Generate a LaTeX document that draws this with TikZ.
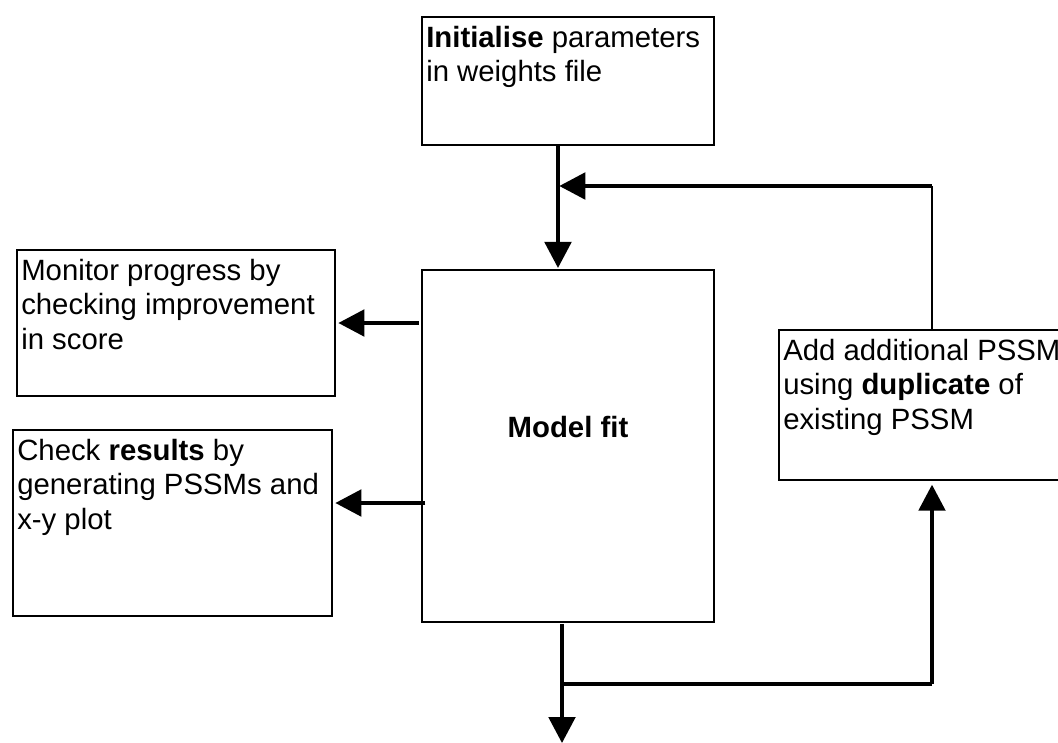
\documentclass[tikz,border=0pt]{standalone}
\usepackage{fontspec}
\setmainfont{Liberation Sans}
\usetikzlibrary{arrows.meta}
\begin{document}
\begin{tikzpicture}[x=0.75pt,y=-0.75pt,
  box/.style={draw, line width=1.1pt, rectangle, inner sep=0pt},
  txt/.style={anchor=north west, align=left, inner sep=0pt, font=\fontsize{22}{25.7}\selectfont},
  conn/.style={line width=2.4pt},
  thinconn/.style={line width=1.6pt},
  arr/.style={conn, -{Triangle[length=19.5pt,width=20pt]}},
]
\useasboundingbox (0,0) rectangle (1058,743);

% boxes
\node[box, minimum width=219pt, minimum height=96pt] (init) at (568,81) {};
\node[box, minimum width=219pt, minimum height=264pt] (model) at (568,446) {};
\node[box, minimum width=238.5pt, minimum height=109.5pt] (monitor) at (176,323) {};
\node[box, minimum width=239.25pt, minimum height=139.5pt] (check) at (172.5,523) {};
\node[box, minimum width=229.5pt, minimum height=112.5pt] (pssm) at (932,405) {};

% texts
\node[txt] (initT) at (426,26) {\textbf{Initialise} parameters\\in weights file};
\node[txt] (monT) at (21,259) {Monitor progress by\\checking improvement\\in score};
\node[txt] (chkT) at (17,439) {Check \textbf{results} by\\generating PSSMs and\\x-y plot};
\node[txt] (pssmT) at (783,339) {Add additional PSSM\\using \textbf{duplicate} of\\existing PSSM};
\node[inner sep=0pt, font=\fontsize{22}{25.7}\selectfont\bfseries] (modelT) at ([yshift=14.6pt]model.center) {Model fit};

% junctions
\coordinate (jtop) at (558,186);
\coordinate (jbot) at (562,684);
\coordinate (out) at (562,743);
\coordinate (c1) at (monitor.east);
\coordinate (c2) at ([yshift=15pt]check.east);

% connectors
\draw[arr] (init.south -| jtop) -- ([yshift=1pt]model.north -| jtop);
\draw[thinconn] (pssm.north) -- (pssm.north |- jtop);
\draw[arr] (pssm.north |- jtop) -- ([xshift=1pt]jtop);
\draw[arr, shorten >=2pt] ([xshift=-2pt]model.west |- c1) -- (c1);
\draw[arr, shorten >=2pt] ([xshift=3pt]model.west |- c2) -- (c2);
\draw[conn] ([yshift=-1pt]model.south -| jbot) -- (jbot);
\draw[arr] (jbot) -- (out);
\draw[conn] (jbot) -- (jbot -| pssm.south);
\draw[arr, shorten >=3pt] (jbot -| pssm.south) -- (pssm.south);
\end{tikzpicture}
\end{document}
